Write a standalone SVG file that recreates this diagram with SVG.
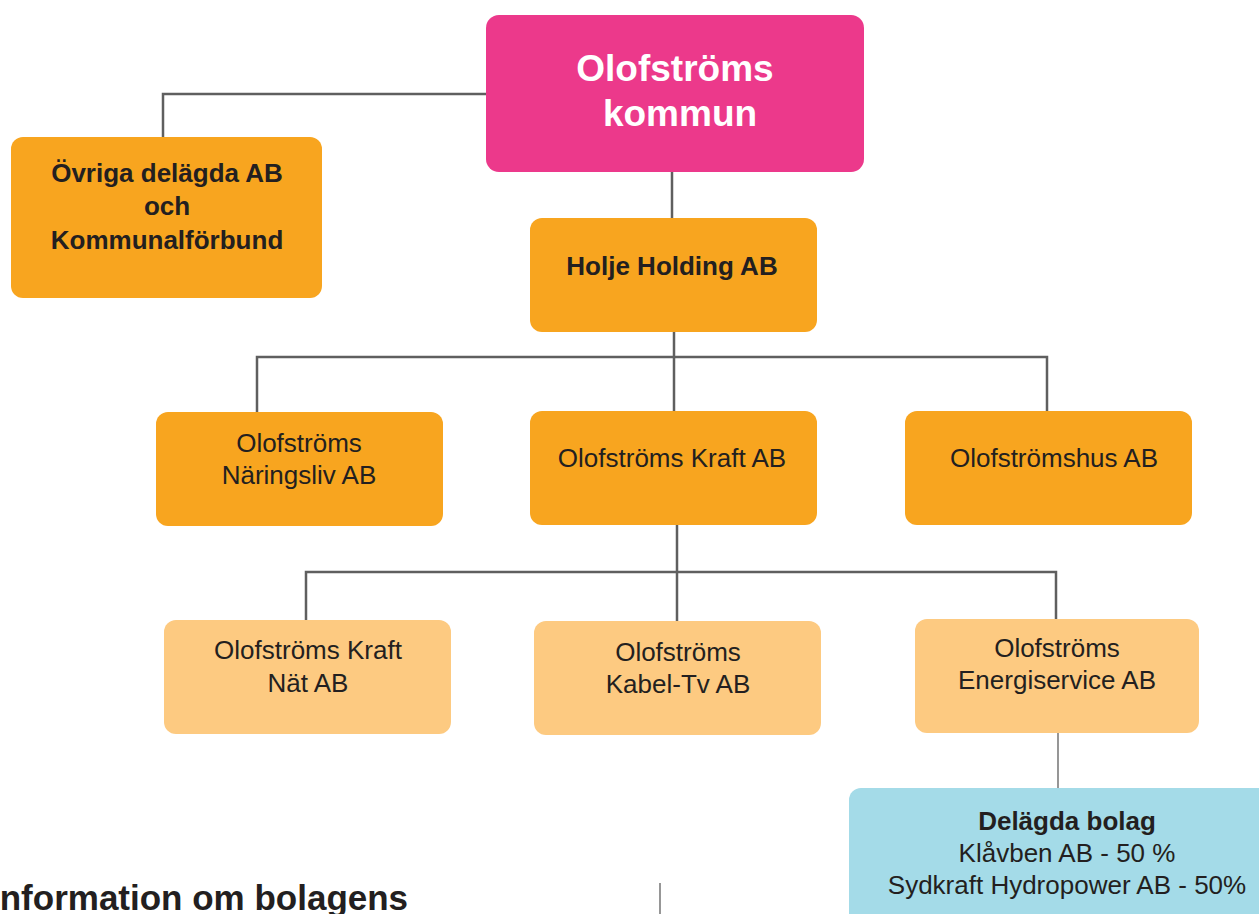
<svg xmlns="http://www.w3.org/2000/svg" width="1259" height="914" viewBox="0 0 1259 914">
<style>
.ln{fill:none;stroke:#5f5f5f;stroke-width:2.5}
.thin{fill:none;stroke:#5f5f5f;stroke-width:1.3}
.o{fill:#F8A51F}
.lo{fill:#FDCA81}
.t{font-family:"Liberation Sans",Arial,sans-serif;font-size:26px;fill:#231f20;text-anchor:middle}
.b{font-weight:bold}
.w{font-size:37px;fill:#ffffff}
</style>
<rect width="1259" height="914" fill="#ffffff"/>
<g id="connectors">
<polyline class="ln" points="486,94 163,94 163,137"/>
<line class="ln" x1="672" y1="172" x2="672" y2="218"/>
<line class="ln" x1="674" y1="332" x2="674" y2="411"/>
<polyline class="ln" points="257,412 257,357 1047,357 1047,411"/>
<line class="ln" x1="677" y1="525" x2="677" y2="621"/>
<polyline class="ln" points="306,620 306,572 1056,572 1056,619"/>
<line class="thin" x1="1058" y1="733" x2="1058" y2="788"/>
<line class="thin" x1="660" y1="883" x2="660" y2="914"/>
</g>
<g id="kommun">
<rect x="486" y="15" width="378" height="157" rx="13" fill="#EC398B"/>
<text class="t b w" x="675" y="81">Olofströms</text>
<text class="t b w" x="680" y="126">kommun</text>
</g>
<g id="ovriga">
<rect class="o" x="11" y="137" width="311" height="161" rx="12"/>
<text class="t b" x="167" y="182">Övriga delägda AB</text>
<text class="t b" x="167" y="215">och</text>
<text class="t b" x="167" y="249">Kommunalförbund</text>
</g>
<g id="holje">
<rect class="o" x="530" y="218" width="287" height="114" rx="12"/>
<text class="t b" x="672" y="275">Holje Holding AB</text>
</g>
<g id="naringsliv">
<rect class="o" x="156" y="412" width="287" height="114" rx="12"/>
<text class="t" x="299" y="452">Olofströms</text>
<text class="t" x="299" y="484">Näringsliv AB</text>
</g>
<g id="kraft">
<rect class="o" x="530" y="411" width="287" height="114" rx="12"/>
<text class="t" x="672" y="467">Olofströms Kraft AB</text>
</g>
<g id="hus">
<rect class="o" x="905" y="411" width="287" height="114" rx="12"/>
<text class="t" x="1054" y="467">Olofströmshus AB</text>
</g>
<g id="nat">
<rect class="lo" x="164" y="620" width="287" height="114" rx="12"/>
<text class="t" x="308" y="659">Olofströms Kraft</text>
<text class="t" x="308" y="692">Nät AB</text>
</g>
<g id="kabel">
<rect class="lo" x="534" y="621" width="287" height="114" rx="12"/>
<text class="t" x="678" y="661">Olofströms</text>
<text class="t" x="678" y="693">Kabel-Tv AB</text>
</g>
<g id="energi">
<rect class="lo" x="915" y="619" width="284" height="114" rx="12"/>
<text class="t" x="1057" y="657">Olofströms</text>
<text class="t" x="1057" y="689">Energiservice AB</text>
</g>
<g id="delagda">
<rect x="849" y="788" width="430" height="150" rx="12" fill="#A4DBE8"/>
<text class="t b" x="1067" y="830">Delägda bolag</text>
<text class="t" x="1067" y="862">Klåvben AB - 50 %</text>
<text class="t" x="1067" y="894">Sydkraft Hydropower AB - 50%</text>
</g>
<text class="t b" x="-10" y="910" style="font-size:35px;text-anchor:start">Information om bolagens</text>
</svg>
